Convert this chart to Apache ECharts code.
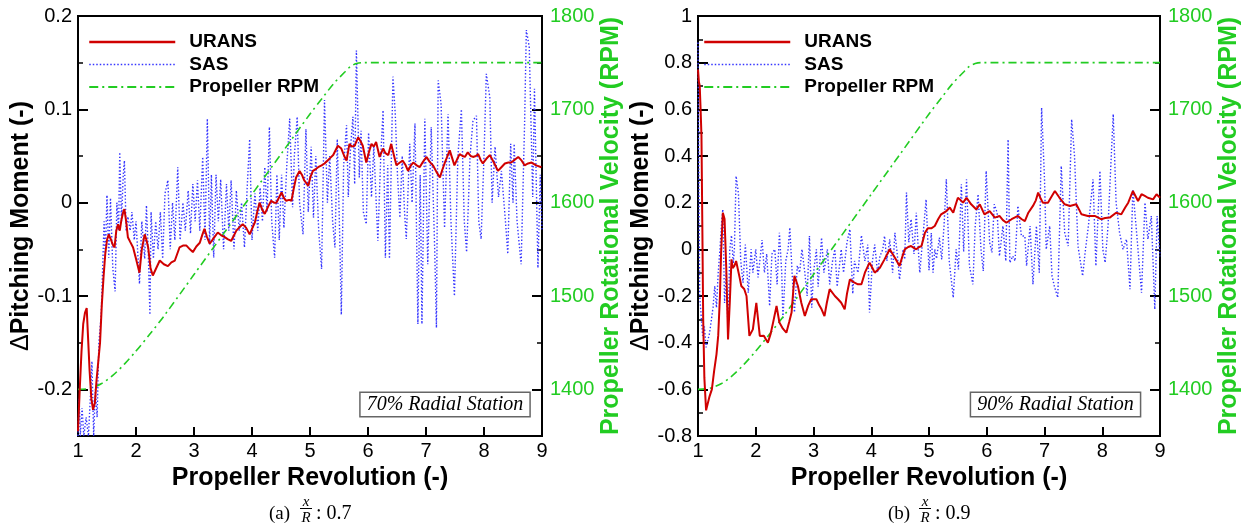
<!DOCTYPE html>
<html>
<head>
<meta charset="utf-8">
<script src="https://cdn.jsdelivr.net/npm/echarts@6/dist/echarts.min.js"></script>
<style>
html, body { margin: 0; padding: 0; background: #fff; }
#chart { width: 1249px; height: 529px; }
</style>
</head>
<body>
<div id="chart"></div>
<script>
// ---- tick values ----
const revTickInterval = 1;
const momentTicksA = [-0.2, -0.1, 0, 0.1, 0.2];
const momentMinorA = [-0.15, -0.05, 0.05, 0.15];
const momentTicksB = [-0.8, -0.6, -0.4, -0.2, 0, 0.2, 0.4, 0.6, 0.8, 1];
const momentMinorB = [-0.7, -0.5, -0.3, -0.1, 0.1, 0.3, 0.5, 0.7, 0.9];
const rpmTicks = [1400, 1500, 1600, 1700, 1800];
const rpmMinor = [1450, 1550, 1650, 1750];

// ---- propeller speed schedule (revolution, RPM) ----
const rpmRev = [1.0, 1.2, 1.4, 1.6, 1.8, 2.0, 2.25, 2.5, 3.0, 3.5, 4.0, 4.5, 5.0, 5.2, 5.4, 5.6, 5.7, 5.8, 5.9, 9.0];
const rpmVal = [1400, 1401, 1406, 1415, 1427, 1441, 1460, 1480, 1523, 1566, 1609, 1652, 1695, 1711, 1727, 1740, 1746, 1749, 1750, 1750];

// ---- 70% radial station: URANS (revolution, dPitching moment) ----
const uransA = [
[1.00,-0.245],[1.03,-0.2],[1.06,-0.16],[1.09,-0.13],[1.12,-0.118],[1.15,-0.113],[1.17,-0.14],[1.20,-0.18],[1.23,-0.21],[1.26,-0.222],
[1.29,-0.215],[1.32,-0.19],[1.35,-0.17],[1.38,-0.15],[1.41,-0.11],[1.44,-0.08],[1.47,-0.055],[1.50,-0.04],[1.53,-0.034],[1.57,-0.04],
[1.60,-0.045],[1.63,-0.048],[1.66,-0.03],[1.69,-0.023],[1.72,-0.03],[1.75,-0.018],[1.78,-0.01],[1.80,-0.007],[1.83,-0.02],[1.86,-0.037],
[1.90,-0.042],[1.95,-0.048],[2.00,-0.06],[2.06,-0.075],[2.10,-0.05],[2.15,-0.034],[2.18,-0.04],[2.21,-0.048],[2.25,-0.07],[2.29,-0.078],
[2.35,-0.07],[2.41,-0.062],[2.48,-0.066],[2.55,-0.068],[2.61,-0.064],[2.67,-0.062],[2.75,-0.048],[2.81,-0.046],[2.87,-0.046],[2.93,-0.05],
[2.98,-0.053],[3.04,-0.047],[3.10,-0.043],[3.14,-0.035],[3.18,-0.028],[3.22,-0.036],[3.27,-0.044],[3.34,-0.038],[3.41,-0.032],[3.47,-0.035],
[3.53,-0.037],[3.58,-0.039],[3.64,-0.041],[3.69,-0.035],[3.73,-0.030],[3.79,-0.026],[3.84,-0.023],[3.90,-0.027],[3.96,-0.034],[4.00,-0.028],
[4.05,-0.021],[4.09,-0.01],[4.13,0.0],[4.18,-0.008],[4.22,-0.012],[4.28,-0.004],[4.33,0.002],[4.38,0.0],[4.42,0.0],[4.47,0.006],
[4.51,0.011],[4.55,0.005],[4.59,0.002],[4.64,0.003],[4.68,0.002],[4.72,0.015],[4.76,0.027],[4.82,0.034],[4.86,0.03],[4.90,0.024],
[4.97,0.018],[5.01,0.028],[5.05,0.034],[5.10,0.036],[5.14,0.038],[5.20,0.04],[5.25,0.042],[5.30,0.045],[5.35,0.048],[5.40,0.051],
[5.48,0.061],[5.54,0.058],[5.59,0.05],[5.63,0.045],[5.68,0.063],[5.72,0.06],[5.77,0.061],[5.83,0.070],[5.87,0.066],[5.91,0.061],
[5.97,0.043],[6.02,0.055],[6.06,0.063],[6.10,0.06],[6.14,0.065],[6.20,0.049],[6.26,0.058],[6.30,0.053],[6.35,0.051],[6.40,0.063],
[6.45,0.05],[6.49,0.040],[6.55,0.043],[6.60,0.045],[6.65,0.04],[6.69,0.034],[6.74,0.04],[6.78,0.043],[6.84,0.04],[6.89,0.038],
[6.95,0.044],[7.01,0.049],[7.06,0.044],[7.12,0.040],[7.18,0.033],[7.24,0.027],[7.28,0.035],[7.32,0.042],[7.37,0.05],[7.41,0.056],
[7.45,0.048],[7.49,0.040],[7.54,0.047],[7.58,0.052],[7.63,0.05],[7.67,0.049],[7.72,0.054],[7.77,0.05],[7.81,0.049],[7.86,0.05],
[7.90,0.052],[7.94,0.046],[7.98,0.042],[8.04,0.047],[8.10,0.051],[8.17,0.043],[8.24,0.034],[8.30,0.038],[8.36,0.042],[8.42,0.043],
[8.47,0.043],[8.53,0.046],[8.59,0.049],[8.65,0.045],[8.70,0.040],[8.76,0.042],[8.82,0.043],[8.90,0.04],[8.99,0.038]
];

// ---- 70% radial station: SAS ----
const sasA = [
[1.00,-0.25],[1.02,-0.21],[1.04,-0.25],[1.07,-0.22],[1.10,-0.25],[1.14,-0.23],[1.18,-0.25],[1.22,-0.2],[1.24,-0.17],[1.27,-0.25],
[1.30,-0.2],[1.33,-0.23],[1.36,-0.15],[1.40,-0.12],[1.42,-0.08],[1.45,-0.02],[1.47,-0.06],[1.50,0.008],[1.53,-0.059],[1.56,0.005],
[1.60,-0.07],[1.64,-0.095],[1.67,0.0],[1.70,-0.03],[1.72,0.054],[1.75,-0.02],[1.78,0.03],[1.80,0.045],[1.83,-0.03],[1.86,-0.015],
[1.90,-0.03],[1.93,-0.01],[1.97,-0.04],[2.00,-0.02],[2.06,-0.087],[2.10,-0.02],[2.15,-0.06],[2.18,-0.003],[2.21,-0.05],[2.24,-0.12],
[2.26,-0.01],[2.30,-0.06],[2.34,-0.02],[2.38,-0.05],[2.42,-0.01],[2.46,-0.06],[2.50,0.01],[2.55,0.024],[2.59,-0.05],[2.63,0.0],
[2.67,-0.04],[2.72,0.038],[2.76,-0.04],[2.81,0.0],[2.85,-0.03],[2.90,0.013],[2.94,-0.033],[2.98,0.02],[3.02,-0.02],[3.06,0.024],
[3.10,-0.03],[3.15,0.049],[3.19,-0.04],[3.23,0.09],[3.27,-0.045],[3.30,0.03],[3.34,-0.059],[3.38,0.03],[3.42,-0.02],[3.46,0.025],
[3.51,-0.05],[3.56,0.02],[3.60,-0.03],[3.64,0.024],[3.69,-0.05],[3.73,0.013],[3.78,-0.03],[3.82,0.0],[3.87,-0.048],[3.92,0.02],
[3.96,0.068],[4.00,-0.04],[4.05,0.01],[4.10,-0.03],[4.14,0.016],[4.18,-0.02],[4.22,0.038],[4.26,-0.01],[4.30,0.081],[4.34,-0.02],
[4.39,-0.059],[4.43,0.03],[4.47,-0.04],[4.51,0.03],[4.55,-0.027],[4.60,0.04],[4.65,0.09],[4.70,-0.005],[4.73,0.05],[4.78,0.092],
[4.82,0.0],[4.88,-0.034],[4.93,0.079],[4.97,-0.01],[5.02,0.06],[5.06,-0.016],[5.10,0.05],[5.15,-0.03],[5.20,-0.071],[5.25,0.11],
[5.30,0.0],[5.34,0.05],[5.39,-0.02],[5.43,-0.048],[5.47,0.068],[5.51,-0.03],[5.54,-0.12],[5.58,0.04],[5.63,0.083],[5.66,0.006],
[5.70,0.06],[5.74,0.092],[5.77,0.02],[5.80,0.163],[5.85,0.027],[5.88,0.077],[5.92,-0.01],[5.97,-0.023],[6.01,0.075],[6.06,0.006],
[6.10,0.06],[6.17,-0.041],[6.22,0.05],[6.26,0.099],[6.30,-0.059],[6.34,0.04],[6.37,-0.06],[6.43,0.135],[6.47,0.095],[6.51,0.027],
[6.55,-0.016],[6.59,0.05],[6.63,-0.01],[6.66,-0.039],[6.72,0.063],[6.76,0.0],[6.81,0.085],[6.86,-0.13],[6.90,0.03],[6.93,-0.13],
[6.98,0.09],[7.03,-0.066],[7.09,0.081],[7.15,-0.05],[7.18,-0.134],[7.21,0.131],[7.26,0.106],[7.32,-0.027],[7.38,0.095],[7.43,-0.02],
[7.49,-0.1],[7.55,0.05],[7.61,0.1],[7.66,-0.02],[7.70,-0.053],[7.76,0.05],[7.81,0.088],[7.87,0.093],[7.91,-0.02],[7.95,-0.039],
[8.00,0.05],[8.04,0.138],[8.10,0.113],[8.14,0.0],[8.19,0.06],[8.25,0.006],[8.30,0.034],[8.37,-0.02],[8.41,-0.055],[8.46,0.063],
[8.50,0.0],[8.52,0.063],[8.57,-0.02],[8.64,-0.066],[8.70,0.085],[8.73,0.185],[8.78,0.167],[8.84,0.006],[8.87,0.122],[8.93,-0.07],
[8.97,0.03],[9.00,-0.03]
];

// ---- 90% radial station: URANS ----
const uransB = [
[1.00,0.77],[1.015,0.72],[1.03,0.70],[1.045,0.6],[1.06,0.486],[1.075,0.1],[1.09,-0.3],[1.11,-0.55],[1.14,-0.69],[1.17,-0.66],
[1.20,-0.63],[1.24,-0.6],[1.28,-0.52],[1.32,-0.45],[1.35,-0.37],[1.38,-0.2],[1.40,-0.014],[1.43,0.157],[1.46,0.13],[1.49,-0.086],
[1.52,-0.386],[1.55,-0.23],[1.58,-0.043],[1.60,-0.08],[1.63,-0.071],[1.66,-0.05],[1.69,-0.057],[1.72,-0.12],[1.75,-0.157],[1.80,-0.17],
[1.84,-0.2],[1.89,-0.371],[1.95,-0.343],[2.01,-0.229],[2.07,-0.371],[2.14,-0.37],[2.21,-0.4],[2.26,-0.36],[2.30,-0.314],[2.36,-0.243],
[2.41,-0.314],[2.47,-0.34],[2.53,-0.357],[2.58,-0.31],[2.62,-0.271],[2.67,-0.114],[2.73,-0.157],[2.79,-0.23],[2.85,-0.286],[2.91,-0.24],
[2.96,-0.214],[3.05,-0.214],[3.10,-0.24],[3.14,-0.257],[3.19,-0.286],[3.23,-0.23],[3.28,-0.171],[3.37,-0.2],[3.43,-0.215],[3.48,-0.229],
[3.54,-0.257],[3.58,-0.19],[3.63,-0.129],[3.71,-0.143],[3.77,-0.15],[3.83,-0.15],[3.89,-0.1],[3.97,-0.057],[4.02,-0.08],[4.06,-0.1],
[4.15,-0.079],[4.23,-0.043],[4.32,0.0],[4.37,-0.02],[4.41,-0.036],[4.49,-0.071],[4.54,-0.03],[4.58,0.0],[4.64,0.01],[4.69,0.014],
[4.78,0.0],[4.83,0.01],[4.87,0.014],[4.93,0.071],[4.98,0.09],[5.04,0.09],[5.10,0.1],[5.16,0.13],[5.21,0.15],[5.30,0.164],
[5.36,0.179],[5.42,0.157],[5.46,0.19],[5.50,0.221],[5.55,0.21],[5.59,0.2],[5.65,0.221],[5.73,0.193],[5.82,0.171],[5.88,0.193],
[5.96,0.15],[6.05,0.164],[6.14,0.136],[6.22,0.143],[6.28,0.125],[6.34,0.114],[6.43,0.129],[6.54,0.143],[6.60,0.13],[6.66,0.121],
[6.72,0.157],[6.80,0.186],[6.85,0.21],[6.89,0.243],[6.93,0.22],[6.97,0.2],[7.06,0.2],[7.12,0.225],[7.18,0.25],[7.26,0.221],
[7.35,0.193],[7.44,0.186],[7.55,0.193],[7.60,0.17],[7.64,0.15],[7.75,0.143],[7.87,0.143],[7.98,0.129],[8.05,0.134],[8.13,0.136],
[8.24,0.157],[8.33,0.15],[8.40,0.18],[8.45,0.2],[8.53,0.25],[8.62,0.207],[8.68,0.236],[8.73,0.23],[8.79,0.221],[8.88,0.214],
[8.94,0.236],[9.00,0.221]
];

// ---- 90% radial station: SAS ----
const sasB = [
[1.00,0.886],[1.01,0.5],[1.02,0.1],[1.03,-0.2],[1.05,-0.27],[1.08,-0.37],[1.11,-0.33],[1.14,-0.42],[1.17,-0.39],[1.20,-0.36],
[1.23,-0.357],[1.26,-0.25],[1.29,-0.157],[1.32,-0.25],[1.35,-0.1],[1.38,0.0],[1.41,0.12],[1.43,0.171],[1.46,-0.23],[1.49,-0.1],
[1.52,-0.35],[1.55,0.0],[1.58,0.06],[1.61,-0.06],[1.63,0.0],[1.66,0.314],[1.70,0.24],[1.74,-0.05],[1.78,-0.143],[1.82,0.02],
[1.87,-0.186],[1.92,0.0],[1.95,-0.1],[2.00,0.0],[2.04,-0.12],[2.07,-0.05],[2.11,0.04],[2.15,-0.1],[2.19,-0.02],[2.24,-0.243],
[2.28,-0.02],[2.33,0.0],[2.37,-0.15],[2.41,0.071],[2.45,-0.1],[2.47,-0.3],[2.52,-0.05],[2.56,0.0],[2.59,0.093],[2.64,-0.15],
[2.67,-0.27],[2.72,-0.07],[2.76,-0.1],[2.80,0.0],[2.85,-0.1],[2.89,-0.2],[2.93,0.057],[2.97,-0.25],[3.00,-0.1],[3.05,0.0],
[3.08,-0.16],[3.14,0.05],[3.18,-0.1],[3.24,0.0],[3.28,-0.15],[3.33,-0.05],[3.37,0.0],[3.41,-0.16],[3.48,0.0],[3.52,-0.1],
[3.58,0.03],[3.63,0.086],[3.68,-0.19],[3.71,-0.05],[3.77,-0.1],[3.83,0.06],[3.89,-0.05],[3.94,0.02],[3.97,-0.271],[4.02,-0.05],
[4.06,0.02],[4.11,-0.1],[4.15,-0.03],[4.20,0.0],[4.23,0.057],[4.27,-0.05],[4.32,0.043],[4.37,-0.1],[4.41,0.071],[4.45,-0.02],
[4.49,-0.129],[4.55,0.0],[4.58,-0.043],[4.61,0.243],[4.65,0.03],[4.69,0.129],[4.74,-0.02],[4.78,0.157],[4.81,0.02],[4.84,-0.1],
[4.90,0.07],[4.95,0.214],[5.00,-0.09],[5.04,0.07],[5.07,-0.1],[5.10,0.0],[5.13,-0.04],[5.18,0.05],[5.22,-0.043],[5.26,0.1],
[5.30,0.3],[5.35,-0.05],[5.42,-0.207],[5.47,0.0],[5.51,-0.086],[5.56,0.279],[5.60,-0.01],[5.65,0.3],[5.70,-0.07],[5.76,-0.15],
[5.80,0.1],[5.85,0.236],[5.90,0.0],[5.94,-0.093],[5.99,0.336],[6.05,0.029],[6.09,-0.014],[6.13,0.193],[6.18,0.157],[6.22,-0.029],
[6.28,0.1],[6.33,-0.05],[6.37,0.471],[6.40,-0.057],[6.45,-0.029],[6.49,-0.05],[6.54,0.186],[6.60,0.057],[6.66,0.057],[6.69,-0.071],
[6.75,0.1],[6.80,-0.15],[6.86,0.1],[6.91,-0.1],[6.95,0.607],[7.00,0.3],[7.03,0.0],[7.09,0.1],[7.13,-0.114],[7.17,-0.157],
[7.23,-0.207],[7.29,0.357],[7.35,0.071],[7.41,0.014],[7.47,0.557],[7.52,0.4],[7.58,0.014],[7.66,-0.114],[7.71,0.0],[7.76,0.1],
[7.84,0.3],[7.89,-0.071],[7.96,0.336],[8.01,0.0],[8.05,-0.057],[8.10,0.1],[8.19,0.579],[8.24,0.2],[8.30,0.071],[8.36,0.0],
[8.42,0.043],[8.48,-0.171],[8.53,0.257],[8.59,0.086],[8.68,-0.186],[8.74,0.2],[8.79,0.043],[8.85,0.143],[8.91,-0.257],[8.95,0.143],
[9.00,-0.03]
];

// ---- styling ----
const SANS = '"Liberation Sans", Arial, Helvetica, sans-serif';
const SERIF = '"Liberation Serif", "Times New Roman", serif';
const RED = '#d00000';
const BLUE = '#3535ff';
const GREEN = '#22cc22';
const rpmData = rpmRev.map((r, i) => [r, rpmVal[i]]);
const fmt = v => String(Math.round(v * 100) / 100);
const plainInt = v => String(Math.round(v));

function xAxisFor(gi) {
  return {
    gridIndex: gi, type: 'value', min: 1, max: 9, interval: revTickInterval,
    axisLine: { onZero: false, lineStyle: { color: '#000', width: 2 } },
    axisTick: { inside: true, length: 9, lineStyle: { color: '#000', width: 2 } },
    axisLabel: { margin: 5, fontSize: 20, color: '#000', fontFamily: SANS },
    splitLine: { show: false },
    name: 'Propeller Revolution (-)', nameLocation: 'middle', nameGap: 29,
    nameTextStyle: { fontSize: 25, fontWeight: 'bold', color: '#000', fontFamily: SANS }
  };
}

function momentAxis(gi, min, max, ticks, gap) {
  return {
    gridIndex: gi, type: 'value', position: 'left', min: min, max: max,
    axisLine: { show: true, onZero: false, lineStyle: { color: '#000', width: 2 } },
    axisTick: { show: true, inside: true, length: 10, customValues: ticks, lineStyle: { color: '#000', width: 2 } },
    axisLabel: { customValues: ticks, formatter: fmt, margin: 6, fontSize: 20, color: '#000', fontFamily: SANS },
    splitLine: { show: false },
    name: '{d|\u0394}Pitching Moment (-)', nameLocation: 'middle', nameGap: gap,
    nameTextStyle: {
      fontSize: 25, fontWeight: 'bold', color: '#000', fontFamily: SANS,
      rich: { d: { fontSize: 25, fontWeight: 'normal', color: '#000', fontFamily: SANS } }
    }
  };
}

function minorAxis(gi, pos, min, max, ticks) {
  return {
    gridIndex: gi, type: 'value', position: pos, min: min, max: max,
    axisLine: { show: false, onZero: false },
    axisTick: { show: true, inside: true, length: 5, customValues: ticks, lineStyle: { color: '#000', width: 1.5 } },
    axisLabel: { show: false },
    splitLine: { show: false }
  };
}

function rpmAxis(gi, gap) {
  return {
    gridIndex: gi, type: 'value', position: 'right', min: 1350, max: 1800,
    axisLine: { show: true, onZero: false, lineStyle: { color: '#000', width: 2 } },
    axisTick: { show: true, inside: true, length: 10, customValues: rpmTicks, lineStyle: { color: '#000', width: 2 } },
    axisLabel: { customValues: rpmTicks, formatter: plainInt, margin: 8, fontSize: 20, color: GREEN, fontFamily: SANS },
    splitLine: { show: false },
    name: 'Propeller Rotational Velocity (RPM)', nameLocation: 'middle', nameGap: gap,
    nameTextStyle: { fontSize: 25, fontWeight: 'bold', color: GREEN, fontFamily: SANS }
  };
}

function legendFor(left) {
  return {
    left: left, top: 32.5, orient: 'vertical', padding: 0,
    itemWidth: 86, itemHeight: 14, itemGap: 3.5, selectedMode: false,
    itemStyle: { color: 'transparent', borderColor: 'transparent', borderWidth: 0 },
    textStyle: { fontSize: 19, fontWeight: 'bold', color: '#000', fontFamily: SANS, padding: [0, 0, 0, 9] },
    data: [
      { name: 'URANS', lineStyle: { color: RED, width: 2.5, type: 'solid' } },
      { name: 'SAS', lineStyle: { color: BLUE, width: 1.5, type: [1.5, 2] } },
      { name: 'Propeller RPM', lineStyle: { color: GREEN, width: 2, type: [9, 4, 2, 4] } }
    ]
  };
}

function seriesFor(xi, yMoment, yRpm, urans, sas) {
  return [
    { name: 'SAS', type: 'line', xAxisIndex: xi, yAxisIndex: yMoment, data: sas, showSymbol: false, symbol: 'none',
      lineStyle: { color: BLUE, width: 1.4, type: [1.4, 2] }, z: 2 },
    { name: 'Propeller RPM', type: 'line', xAxisIndex: xi, yAxisIndex: yRpm, data: rpmData, showSymbol: false, symbol: 'none',
      smooth: 0.3, lineStyle: { color: GREEN, width: 1.6, type: [8, 4, 2, 4] }, z: 3 },
    { name: 'URANS', type: 'line', xAxisIndex: xi, yAxisIndex: yMoment, data: urans, showSymbol: false, symbol: 'none',
      lineStyle: { color: RED, width: 2 }, z: 4 }
  ];
}

function stationBox(cx, label) {
  return {
    type: 'text', x: cx, y: 404.5, z: 100,
    style: {
      text: label, font: 'italic 20px ' + SERIF, fill: '#000',
      align: 'center', verticalAlign: 'middle', textAlign: 'center', textVerticalAlign: 'middle',
      backgroundColor: '#fff', borderColor: '#666', borderWidth: 1.5, padding: [2, 6, 1, 6]
    }
  };
}

function caption(x0, tag, value) {
  return [
    { type: 'text', x: x0, y: 514, style: { text: tag, font: '19px ' + SERIF, fill: '#000', verticalAlign: 'middle', textVerticalAlign: 'middle' } },
    { type: 'text', x: x0 + 37, y: 502, style: { text: 'x', font: 'italic 15px ' + SERIF, fill: '#000', align: 'center', textAlign: 'center', verticalAlign: 'middle', textVerticalAlign: 'middle' } },
    { type: 'line', shape: { x1: x0 + 31, y1: 508.5, x2: x0 + 43, y2: 508.5 }, style: { stroke: '#000', lineWidth: 1 } },
    { type: 'text', x: x0 + 37, y: 518, style: { text: 'R', font: 'italic 15px ' + SERIF, fill: '#000', align: 'center', textAlign: 'center', verticalAlign: 'middle', textVerticalAlign: 'middle' } },
    { type: 'text', x: x0 + 47, y: 514, style: { text: ': ' + value, font: '20px ' + SERIF, fill: '#000', verticalAlign: 'middle', textVerticalAlign: 'middle' } }
  ];
}

const chart = echarts.init(document.getElementById('chart'), null, { renderer: 'canvas' });
chart.setOption({
  animation: false,
  backgroundColor: '#fff',
  grid: [
    { left: 78, top: 16, width: 464, height: 420, show: true, borderColor: '#000', borderWidth: 2 },
    { left: 698, top: 16, width: 462, height: 420, show: true, borderColor: '#000', borderWidth: 2 }
  ],
  legend: [legendFor(88), legendFor(703)],
  xAxis: [xAxisFor(0), xAxisFor(1)],
  yAxis: [
    momentAxis(0, -0.25, 0.2, momentTicksA, 42),
    minorAxis(0, 'left', -0.25, 0.2, momentMinorA),
    rpmAxis(0, 56),
    minorAxis(0, 'right', 1350, 1800, rpmMinor),
    momentAxis(1, -0.8, 1, momentTicksB, 41),
    minorAxis(1, 'left', -0.8, 1, momentMinorB),
    rpmAxis(1, 57),
    minorAxis(1, 'right', 1350, 1800, rpmMinor)
  ],
  series: [].concat(
    seriesFor(0, 0, 2, uransA, sasA),
    seriesFor(1, 4, 6, uransB, sasB)
  ),
  graphic: [stationBox(445, '70% Radial Station'), stationBox(1055.5, '90% Radial Station')]
    .concat(caption(269, '(a)', '0.7'), caption(888, '(b)', '0.9'))
});
</script>
</body>
</html>
